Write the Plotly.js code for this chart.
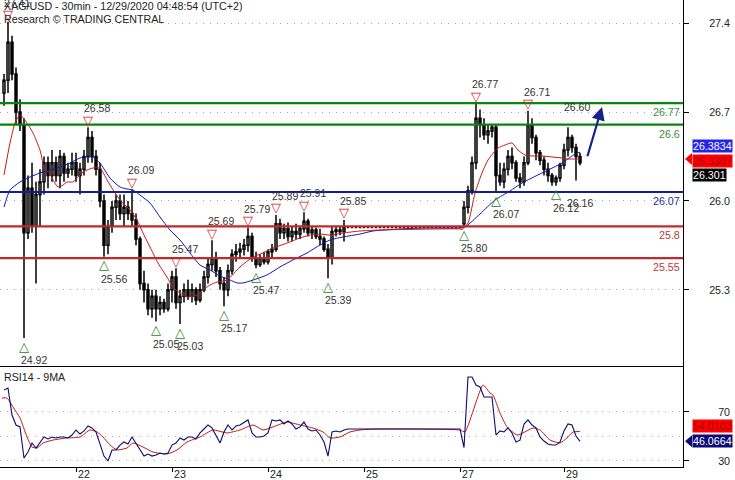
<!DOCTYPE html>
<html><head><meta charset="utf-8">
<script src="https://cdn.plot.ly/plotly-3.0.1.min.js"></script>
<style>html,body{margin:0;padding:0;background:#fff}#chart{width:735px;height:480px}</style>
</head><body><div id="chart"></div>
<script>
// ---------- DATA (hourly bars; hour index on the session axis, 0 = 21 Dec 00:00) ----------
const FIRST_HOUR = 6;
const openP = [
 26.85,26.95,27.25,27.0,26.7,26.6,25.75,26.1,25.8,26.05,26.15,26.3,26.2,26.3,26.2,26.35,26.22,26.25,26.3,26.2,
 26.25,26.35,26.5,26.35,26.25,26.0,25.65,25.8,25.95,26.0,25.9,25.95,25.9,25.85,25.7,25.35,25.3,25.15,25.25,25.15,
 25.2,25.15,25.3,25.4,25.2,25.25,25.3,25.25,25.3,25.22,25.3,25.4,25.5,25.55,25.45,25.35,
 25.3,25.45,25.58,25.6,25.62,25.65,25.72,25.55,25.5,25.55,25.52,25.6,25.62,25.82,25.75,25.78,25.72,25.76,25.74,25.78,
 25.84,25.75,25.77,25.72,25.7,25.62,25.55,25.76,25.77,25.76,
 25.79,25.79,25.79,25.79,25.79,25.79,25.79,25.79,25.79,25.79,25.79,25.79,25.79,25.79,25.79,25.79,25.79,25.79,25.79,25.79,
 25.79,25.79,25.79,25.79,25.79,25.79,25.79,25.79,25.79,
 25.82,25.95,26.08,26.3,26.65,26.6,26.52,26.55,26.58,26.2,26.15,26.25,26.35,26.3,26.18,26.15,26.3,26.6,26.5,26.38,
 26.32,26.25,26.2,26.15,26.18,26.28,26.4,26.5,26.42,26.35];
const highP = [
 27.0,27.41,27.3,27.05,26.8,26.65,26.2,26.3,26.15,26.25,26.35,26.35,26.4,26.35,26.4,26.38,26.3,26.38,26.38,26.3,
 26.4,26.58,26.55,26.4,26.3,26.05,25.85,26.0,26.05,26.05,26.05,26.0,26.09,25.9,25.72,25.45,25.35,25.3,25.3,25.25,
 25.23,25.35,25.45,25.47,25.3,25.35,25.38,25.35,25.32,25.35,25.45,25.55,25.69,25.6,25.48,25.4,
 25.5,25.62,25.66,25.67,25.7,25.79,25.75,25.6,25.58,25.6,25.62,25.66,25.89,25.86,25.82,25.83,25.8,25.82,25.8,25.91,
 25.86,25.8,25.79,25.78,25.72,25.66,25.8,25.8,25.8,25.85,
 25.79,25.79,25.79,25.79,25.79,25.79,25.79,25.79,25.79,25.79,25.79,25.79,25.79,25.79,25.79,25.79,25.79,25.79,25.79,25.79,
 25.79,25.79,25.79,25.79,25.79,25.79,25.79,25.79,25.79,
 26.0,26.12,26.35,26.77,26.72,26.65,26.6,26.6,26.6,26.3,26.3,26.4,26.42,26.32,26.22,26.35,26.71,26.65,26.52,26.4,
 26.35,26.3,26.22,26.2,26.3,26.45,26.58,26.52,26.45,26.38];
const lowP = [
 26.75,26.85,26.95,26.6,26.55,24.92,25.7,25.75,25.35,25.8,26.05,26.1,26.15,26.15,26.1,26.15,26.18,26.2,26.15,26.05,
 26.2,26.3,26.3,26.2,25.95,25.56,25.58,25.75,25.85,25.85,25.8,25.85,25.8,25.65,25.3,25.2,25.1,25.08,25.05,25.1,
 25.12,25.13,25.2,25.15,25.03,25.2,25.22,25.2,25.18,25.2,25.28,25.35,25.45,25.4,25.3,25.17,
 25.25,25.42,25.52,25.55,25.57,25.6,25.52,25.47,25.48,25.5,25.5,25.55,25.6,25.7,25.7,25.68,25.68,25.7,25.7,25.75,
 25.72,25.7,25.7,25.65,25.6,25.39,25.5,25.72,25.73,25.68,
 25.79,25.79,25.79,25.79,25.79,25.79,25.79,25.79,25.79,25.79,25.79,25.79,25.79,25.79,25.79,25.79,25.79,25.79,25.79,25.79,
 25.79,25.79,25.79,25.79,25.79,25.79,25.79,25.79,25.79,
 25.80,25.9,26.05,26.25,26.5,26.48,26.45,26.5,26.07,26.12,26.1,26.2,26.25,26.15,26.1,26.12,26.28,26.45,26.32,26.28,
 26.2,26.15,26.12,26.12,26.15,26.25,26.35,26.38,26.16,26.28];
const closeP = [
 26.95,27.25,27.0,26.7,26.6,25.75,26.1,25.8,26.05,26.15,26.3,26.2,26.3,26.2,26.35,26.22,26.25,26.3,26.2,26.25,
 26.35,26.5,26.35,26.25,26.0,25.65,25.8,25.95,26.0,25.9,25.95,25.9,25.85,25.7,25.35,25.3,25.15,25.25,25.15,25.2,
 25.15,25.3,25.4,25.2,25.25,25.3,25.25,25.3,25.22,25.3,25.4,25.5,25.55,25.45,25.35,25.3,
 25.45,25.58,25.6,25.62,25.65,25.72,25.55,25.5,25.55,25.52,25.6,25.62,25.82,25.75,25.78,25.72,25.76,25.74,25.78,25.84,
 25.75,25.77,25.72,25.7,25.62,25.55,25.76,25.77,25.76,25.79,
 25.79,25.79,25.79,25.79,25.79,25.79,25.79,25.79,25.79,25.79,25.79,25.79,25.79,25.79,25.79,25.79,25.79,25.79,25.79,25.79,
 25.79,25.79,25.79,25.79,25.79,25.79,25.79,25.79,25.79,
 25.95,26.08,26.3,26.65,26.6,26.52,26.55,26.58,26.2,26.15,26.25,26.35,26.3,26.18,26.15,26.3,26.6,26.5,26.38,26.32,
 26.25,26.2,26.15,26.18,26.28,26.4,26.5,26.42,26.35,26.301];

// moving averages (hour, price)
const maFastHour = [6,7.5,8.75,10,11.75,13.25,15,16.25,17.5,18.25,19.5,20.75,21.75,23.25,25.5,26.75,28.25,30,31.75,32.5,35,37.5,39.25,40.75,42.5,44.5,46.75,48.25,50,51.75,54.25,55.75,57.5,59.25,61.75,65,68.25,70.75,73.25,76.75,80,82.5,85,87.5,90.75,95,100,120,120.5,122,123.75,125.5,127,129.5,131.25,133,134.5,136.25,138,140.5,143,145.5,147,148.75,150];
const maFastVal  = [26.204,26.456,26.613,26.676,26.613,26.535,26.40,26.243,26.22,26.165,26.11,26.125,26.149,26.149,26.22,26.243,26.259,26.259,26.165,26.125,26.007,25.928,25.85,25.747,25.637,25.511,25.40,25.322,25.275,25.243,25.259,25.298,25.338,25.361,25.377,25.48,25.558,25.59,25.629,25.668,25.708,25.731,25.739,25.731,25.747,25.763,25.771,25.779,25.775,25.826,26.062,26.22,26.322,26.417,26.44,26.456,26.40,26.361,26.354,26.354,26.346,26.338,26.33,26.33,26.3307];
const maSlowHour = [6,7.5,10,12.5,15,17.5,20,22.5,25,26.75,28.25,30,32.5,35,36.75,38.25,40,42.5,45,47.5,50,52.5,55,57.5,60,62.5,64.25,65.75,68.25,71.75,75,78.25,81.75,85,87.5,90.75,95,98.25,105,111.75,120,121.25,125,128.75,132.5,135.5,140.5,145.5,148.75,150];
const maSlowVal  = [25.952,26.086,26.149,26.188,26.22,26.243,26.267,26.298,26.338,26.346,26.346,26.298,26.18,26.109,26.094,26.086,26.046,25.983,25.873,25.771,25.692,25.59,25.495,25.456,25.409,25.377,25.354,25.354,25.377,25.417,25.48,25.535,25.59,25.653,25.692,25.716,25.739,25.763,25.779,25.787,25.787,25.794,25.897,26.007,26.078,26.141,26.22,26.298,26.369,26.3834];

// RSI14 (hourly, same hours as the bars) and its 9MA
const rsi = [
 88,89.6,67.5,59.4,57.8,32.4,37.3,44.7,40.6,45.5,
 49.6,48,49.6,48.8,49.6,49.6,48.8,51.2,55.3,52,
 54.5,58.6,57,53.7,44.7,34,30,39,39,43,
 45.5,43.9,49.6,44,39,34,35.7,34,34.9,36.5,
 35.7,36.5,43,44.7,48.8,47.1,49.6,49.6,48,52.9,
 56.1,59.4,57,50.4,44.7,53.7,59.4,55.3,58.6,59.4,
 61.8,63.5,52.9,49.6,49.6,50.4,52.9,63.5,62.7,63.5,
 60.2,62.7,60.2,56.1,57.8,61.8,56.1,54.5,55.3,51.2,
 45.5,34,53.7,54.5,53.7,55.3,
 56.1,56.1,56.1,56.1,56.1,56.1,56.1,56.1,56.1,56.1,56.1,56.1,56.1,56.1,56.1,56.1,56.1,56.1,56.1,56.1,
 56.1,56.1,56.1,56.1,56.1,56.1,56.1,56.1,56.1,
 41,98.6,98.6,92,90.4,82.2,82.2,82.2,51.2,54.5,
 53.7,57,52.9,45.5,47,60.2,63.5,59.4,57,49.6,
 46.3,43.9,43,43,45.5,54.5,60.2,59.4,50.4,46.0664];
const rsiMaHour = [5.5,6.75,8.25,10,11.75,13,14.25,15.75,18.25,21.75,25,27.5,29.25,30.75,32.5,34.25,36.75,38.25,40.75,43.25,46.75,49.25,51.75,55,58.25,61.75,65,68.25,70.75,73.25,76.75,80,83.25,85.75,87.5,90,92.5,95,98.75,120,121.25,125.75,127.5,128.25,130,131.75,134.25,135.75,138.25,140,142.5,145,146.75,148.25,150];
const rsiMaVal  = [81.4,81.4,74.1,65.1,49.6,41.4,40.6,44.7,47.1,48.8,49.6,55.3,53.7,49.6,43.1,39,40.6,44.7,41.4,37.3,35.7,39,45.5,49.6,55.3,52.9,55.3,59.4,55.3,57.8,61.8,59.4,56.9,53.7,48.8,49.6,53.7,55.3,56.1,55.3,53.7,92,85.5,83.9,69.2,57.8,51.2,52.9,56.9,55.3,47.1,44.7,48.8,53.7,54.0103];

// swing points
const highMarkHour  = [7,27,38,49,58,67,74,81,91,124,137];
const highMarkPrice = [27.41,26.58,26.09,25.47,25.69,25.79,25.89,25.91,25.85,26.77,26.71];
const lowMarkHour   = [11,31,44,50,61,69,87,121,129,144];
const lowMarkPrice  = [24.92,25.56,25.05,25.03,25.17,25.47,25.39,25.80,26.07,26.12];
const extraLabelHour = [149];
const extraLabelPrice = [26.16];

// key levels
const levelPrice = [26.77,26.6,26.07,25.8,25.55];
const levelText  = ['26.77','26.6','26.07','25.8','25.55'];
const levelColor = ['#0a840a','#0a840a','#12208c','#bf2b2b','#bf2b2b'];
const levelTextColor = ['#3a8f3a','#3a8f3a','#2a2aa0','#b83a3a','#b83a3a'];

// projection arrow (hour, price) and target
const projHour  = [151.75,155.5];
const projPrice = [26.34,26.74];
const targetText = '26.60';

// axes
const dayTickHour = [24,48,72,96,120,146];
const dayTickText = ['22','23','24','25','27','29'];
const priceTicks = [25.3,26.0,26.7,27.4];
const priceTickText = ['25.3','26.0','26.7','27.4'];
const rsiTicks = [30,70];
const lastValues = {maSlow:'26.3834', maFast:'26.3307', close:'26.301', rsiMa:'54.0103', rsi:'46.0664'};

// ---------- CHART ----------
const FONT = 'Liberation Sans, Arial, sans-serif';
const hours = openP.map((_, i) => FIRST_HOUR + i);
const rsiHours = rsi.map((_, i) => FIRST_HOUR + i);

const traces = [
  {type:'scatter', mode:'lines', x:maSlowHour, y:maSlowVal, xaxis:'x', yaxis:'y',
   line:{color:'#1414b4', width:1, shape:'spline', smoothing:0.6}, hoverinfo:'skip'},
  {type:'scatter', mode:'lines', x:maFastHour, y:maFastVal, xaxis:'x', yaxis:'y',
   line:{color:'#c41818', width:1, shape:'spline', smoothing:0.6}, hoverinfo:'skip'},
  {type:'candlestick', x:hours, open:openP, high:highP, low:lowP, close:closeP, xaxis:'x', yaxis:'y',
   increasing:{line:{color:'#000', width:1.5}, fillcolor:'#ffffff'},
   decreasing:{line:{color:'#000', width:1.5}, fillcolor:'#000000'}, whiskerwidth:0, hoverinfo:'skip'},
  {type:'scatter', mode:'lines', x:rsiMaHour, y:rsiMaVal, xaxis:'x', yaxis:'y2',
   line:{color:'#c41818', width:1, shape:'spline', smoothing:0.5}, hoverinfo:'skip'},
  {type:'scatter', mode:'lines', x:rsiHours, y:rsi, xaxis:'x', yaxis:'y2',
   line:{color:'#0c0c6e', width:1.1}, hoverinfo:'skip'}
];

const shapes = levelPrice.map((p, i) => ({type:'line', xref:'paper', x0:0, x1:1, yref:'y', y0:p, y1:p,
  line:{color:levelColor[i], width:2.2}, layer:'above'}));
// arrow tabs for current-value boxes
shapes.push({type:'path', xref:'paper', xsizemode:'pixel', xanchor:1, yref:'y', ysizemode:'pixel',
  yanchor:Number(lastValues.maFast), path:'M2,0 L9,6 L9,-6 Z', fillcolor:'#ff0000', line:{width:0}});
shapes.push({type:'path', xref:'paper', xsizemode:'pixel', xanchor:1, yref:'y2', ysizemode:'pixel',
  yanchor:Number(lastValues.rsi), path:'M2,0 L9,6 L9,-6 Z', fillcolor:'#0a0a78', line:{width:0}});

const ann = [];
const lblFont = {family:FONT, size:10.5, color:'#333'};
highMarkHour.forEach((h, i) => {
  ann.push({x:h, y:highMarkPrice[i], xref:'x', yref:'y', text:'▽', showarrow:false, yanchor:'middle', yshift:7,
    font:{family:'DejaVu Sans', size:13, color:'#d02020'}});
  ann.push({x:h, y:highMarkPrice[i], xref:'x', yref:'y', text:highMarkPrice[i].toFixed(2), showarrow:false,
    yanchor:'middle', yshift:19, xshift:9, font:lblFont});
});
lowMarkHour.forEach((h, i) => {
  ann.push({x:h, y:lowMarkPrice[i], xref:'x', yref:'y', text:'△', showarrow:false, yanchor:'middle', yshift:-8,
    font:{family:'DejaVu Sans', size:13, color:'#1a8a1a'}});
  ann.push({x:h, y:lowMarkPrice[i], xref:'x', yref:'y', text:lowMarkPrice[i].toFixed(2), showarrow:false,
    yanchor:'middle', yshift:-22, xshift:10, font:lblFont});
});
extraLabelHour.forEach((h, i) => {
  ann.push({x:h, y:extraLabelPrice[i], xref:'x', yref:'y', text:extraLabelPrice[i].toFixed(2), showarrow:false,
    yanchor:'middle', yshift:-22, xshift:4, font:lblFont});
});
levelPrice.forEach((p, i) => {
  ann.push({x:1, xref:'paper', y:p, yref:'y', text:levelText[i], showarrow:false, xanchor:'right', yanchor:'top',
    xshift:-1, yshift:-1, font:{family:FONT, size:10.7, color:levelTextColor[i]}});
});
// projection arrow + target label
ann.push({x:projHour[1], y:projPrice[1], ax:projHour[0], ay:projPrice[0], xref:'x', yref:'y', axref:'x', ayref:'y',
  text:'', showarrow:true, arrowhead:2, arrowsize:1.2, arrowwidth:2.2, arrowcolor:'#16228a'});
ann.push({x:projHour[1], y:projPrice[1], xref:'x', yref:'y', text:targetText, showarrow:false, xanchor:'right',
  yanchor:'middle', xshift:-10, yshift:0, font:lblFont});
// titles
ann.push({x:0, xref:'paper', y:1, yref:'paper', xanchor:'left', yanchor:'top', xshift:2, yshift:2, showarrow:false,
  text:'XAG/USD - 30min - 12/29/2020 04:48:54 (UTC+2)', font:{family:FONT, size:10.7, color:'#222'}});
ann.push({x:0, xref:'paper', y:1, yref:'paper', xanchor:'left', yanchor:'top', xshift:2, yshift:-11, showarrow:false,
  text:'Research © TRADING CENTRAL', font:{family:FONT, size:10.7, color:'#222'}});
ann.push({x:0, xref:'paper', y:0.2141, yref:'paper', xanchor:'left', yanchor:'top', xshift:2, yshift:-2, showarrow:false,
  text:'RSI14 - 9MA', font:{family:FONT, size:10.7, color:'#222'}});
// current value boxes
const box = (txt, y, yref, bg, fg, ys, xs) => ({x:1, xref:'paper', y:y, yref:yref, xanchor:'left', yanchor:'middle',
  xshift:xs, yshift:ys, text:txt, showarrow:false, bgcolor:bg, borderpad:0,
  font:{family:FONT, size:10.7, color:fg}});
ann.push(box(lastValues.maSlow, Number(lastValues.maSlow), 'y', '#2424e8', '#ffffff', 6, 9));
ann.push(box(lastValues.maFast, Number(lastValues.maFast), 'y', '#ff0000', '#a80000', -2, 9));
ann.push(box(lastValues.close, Number(lastValues.close), 'y', '#000000', '#ffffff', -12, 9));
ann.push(box(lastValues.rsiMa, Number(lastValues.rsiMa), 'y2', '#ff0000', '#a80000', 6, 9));
ann.push(box(lastValues.rsi, Number(lastValues.rsi), 'y2', '#0a0a78', '#ffffff', 0, 9));

const gridCommon = {showgrid:true, gridcolor:'#a8a8a8', gridwidth:1, griddash:'1px,6px', zeroline:false};
const layout = {
  width:735, height:480, margin:{l:0, r:52, t:0, b:13, pad:0},
  paper_bgcolor:'#ffffff', plot_bgcolor:'#ffffff', showlegend:false,
  font:{family:FONT, size:10.7, color:'#222'},
  xaxis:{domain:[0,1], range:[5,175.75], anchor:'y2', tickmode:'array', tickvals:dayTickHour, ticktext:dayTickText,
    ticks:'outside', ticklen:4, tickcolor:'#000', showline:true, linecolor:'#000', linewidth:1, mirror:true,
    showgrid:false, zeroline:false, ticklabelshift:8, ticklabelstandoff:-7, rangeslider:{visible:false},
    tickfont:{family:FONT, size:10.7, color:'#222'}},
  yaxis:Object.assign({domain:[0.2141,1], range:[24.692,27.582], side:'right', anchor:'x', tickmode:'array',
    tickvals:priceTicks, ticktext:priceTickText, ticks:'outside', ticklen:5, tickcolor:'#000', showline:true,
    linecolor:'#000', linewidth:1, ticklabelstandoff:18, tickfont:{family:FONT, size:10.7, color:'#222'}}, gridCommon),
  yaxis2:Object.assign({domain:[0,0.2141], range:[25.1,106.7], side:'right', anchor:'x', tickmode:'array',
    tickvals:rsiTicks, ticktext:rsiTicks.map(String), ticks:'outside', ticklen:5, tickcolor:'#000', showline:true,
    linecolor:'#000', linewidth:1, ticklabelstandoff:27, tickfont:{family:FONT, size:10.7, color:'#222'},
    minor:{tickmode:'array', tickvals:[50], showgrid:true, gridcolor:'#a8a8a8', griddash:'1px,6px', ticks:''}}, gridCommon),
  shapes:shapes, annotations:ann
};
Plotly.newPlot('chart', traces, layout, {staticPlot:true, displayModeBar:false});
</script></body></html>
